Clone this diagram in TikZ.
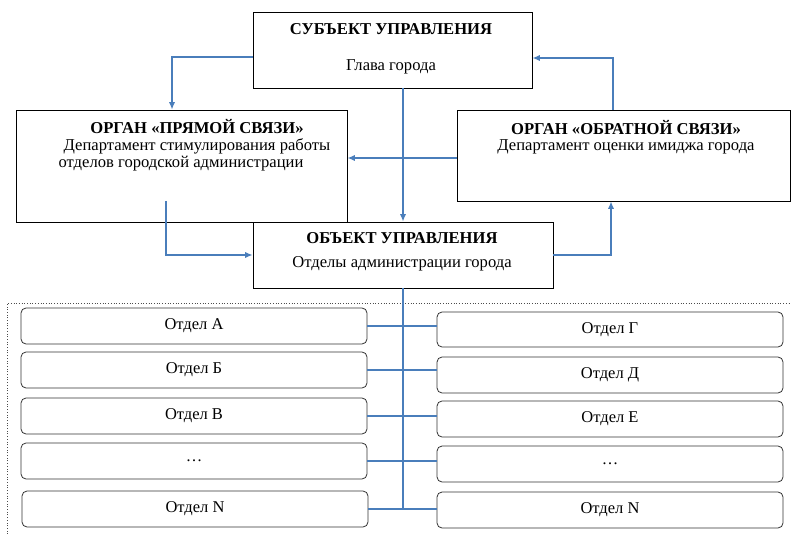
\documentclass[tikz,border=0pt]{standalone}
\usepackage{fontspec}
\setmainfont{Liberation Serif}
\usetikzlibrary{arrows.meta}
\tikzset{>={Latex[length=2.6mm,width=2.2mm]}}
\definecolor{linkblue}{HTML}{4A7EBB}
\tikzset{
  box/.style={draw=black, line width=0.9pt, inner sep=0pt},
  dept/.style={draw=black!80, line width=0.8pt, rounded corners=5pt, inner sep=0pt,
    minimum width=346pt, font=\fontsize{16.5}{19}\selectfont},
  head/.style={font=\fontsize{16.6}{19}\selectfont\bfseries, inner sep=0pt},
  sub/.style={font=\fontsize{16.6}{19}\selectfont, inner sep=0pt},
  link/.style={draw=linkblue, line width=1.3pt},
  arr/.style={link, ->, >={Latex[length=2.6mm,width=2.2mm]}},
}
\begin{document}
\begin{tikzpicture}[x=1pt, y=-1pt]
\useasboundingbox (0,0) rectangle (791,534);
    %boxes
    \node[box, minimum width=279pt, minimum height=76pt] (subj) at (392.5,50) {};
    \node[box, minimum width=331pt, minimum height=112pt] (prm) at (181.5,166) {};
    \node[box, minimum width=333pt, minimum height=91pt] (obr) at (623.5,155.5) {};
    \node[box, minimum width=300pt, minimum height=66pt] (obj) at (403,255) {};
    %box texts
    \node[head] (subjh) at (391,29) {СУБЪЕКТ УПРАВЛЕНИЯ};
    \node[sub] (subjt) at (391,67) {Глава города};
    \node[head] (prmh) at (197,127) {ОРГАН «ПРЯМОЙ СВЯЗИ»};
    \node[sub] (prmt1) at (197,146) {Департамент стимулирования работы};
    \node[sub] (prmt2) at (181,164) {отделов городской администрации};
    \node[head] (obrh) at (626,128) {ОРГАН «ОБРАТНОЙ СВЯЗИ»};
    \node[sub] (obrt) at (626,147) {Департамент оценки имиджа города};
    \node[head] (objh) at (402,238) {ОБЪЕКТ УПРАВЛЕНИЯ};
    \node[sub] (objt) at (402,264) {Отделы администрации города};
    %departments
    \node[dept, minimum height=36pt] (lA) at (194,326) {Отдел А};
    \node[dept, minimum height=36pt] (lB) at (194,370) {Отдел Б};
    \node[dept, minimum height=36pt] (lV) at (194,416) {Отдел В};
    \node[dept, minimum height=36pt] (lD) at (194,461) {\dots};
    \node[dept, minimum height=36pt] (lN) at (195,509) {Отдел N};
    \node[dept, minimum height=35pt] (rG) at (610,329.5) {Отдел Г};
    \node[dept, minimum height=36pt] (rD) at (610,375) {Отдел Д};
    \node[dept, minimum height=36pt] (rE) at (610,419) {Отдел Е};
    \node[dept, minimum height=36pt] (rDots) at (610,464) {\dots};
    \node[dept, minimum height=36pt] (rN) at (610,510) {Отдел N};
    %frame
    \draw[black!70, dotted, line width=0.7pt] (7,534) -- (7,303) -- (791,303);
    %links
    \coordinate (prmout) at (166,201);
    \draw[arr] ([yshift=-7pt]subj.west) -| ([xshift=-9.5pt]prm.north);
    \draw[arr] (obj.north |- subj.south) -- (obj.north);
    \draw[arr] ([yshift=-2.5pt]obr.west) -- ([yshift=-2.5pt]obr.west -| prm.east);
    \draw[arr] (prmout) |- (obj.west);
    \draw[arr] (obj.east) -| ([xshift=-12.5pt]obr.south);
    \draw[arr] ([xshift=-10.5pt]obr.north) |- ([yshift=-8pt]subj.east);
    %bus
    \draw[link] (obj.south) -- (obj.south |- lN.east);
    \draw[link] (lA.east) -- (lA.east -| rG.west);
    \draw[link] (lB.east) -- (lB.east -| rD.west);
    \draw[link] (lV.east) -- (lV.east -| rE.west);
    \draw[link] (lD.east) -- (lD.east -| rDots.west);
    \draw[link] (lN.east) -- (lN.east -| rN.west);
\end{tikzpicture}
\end{document}
